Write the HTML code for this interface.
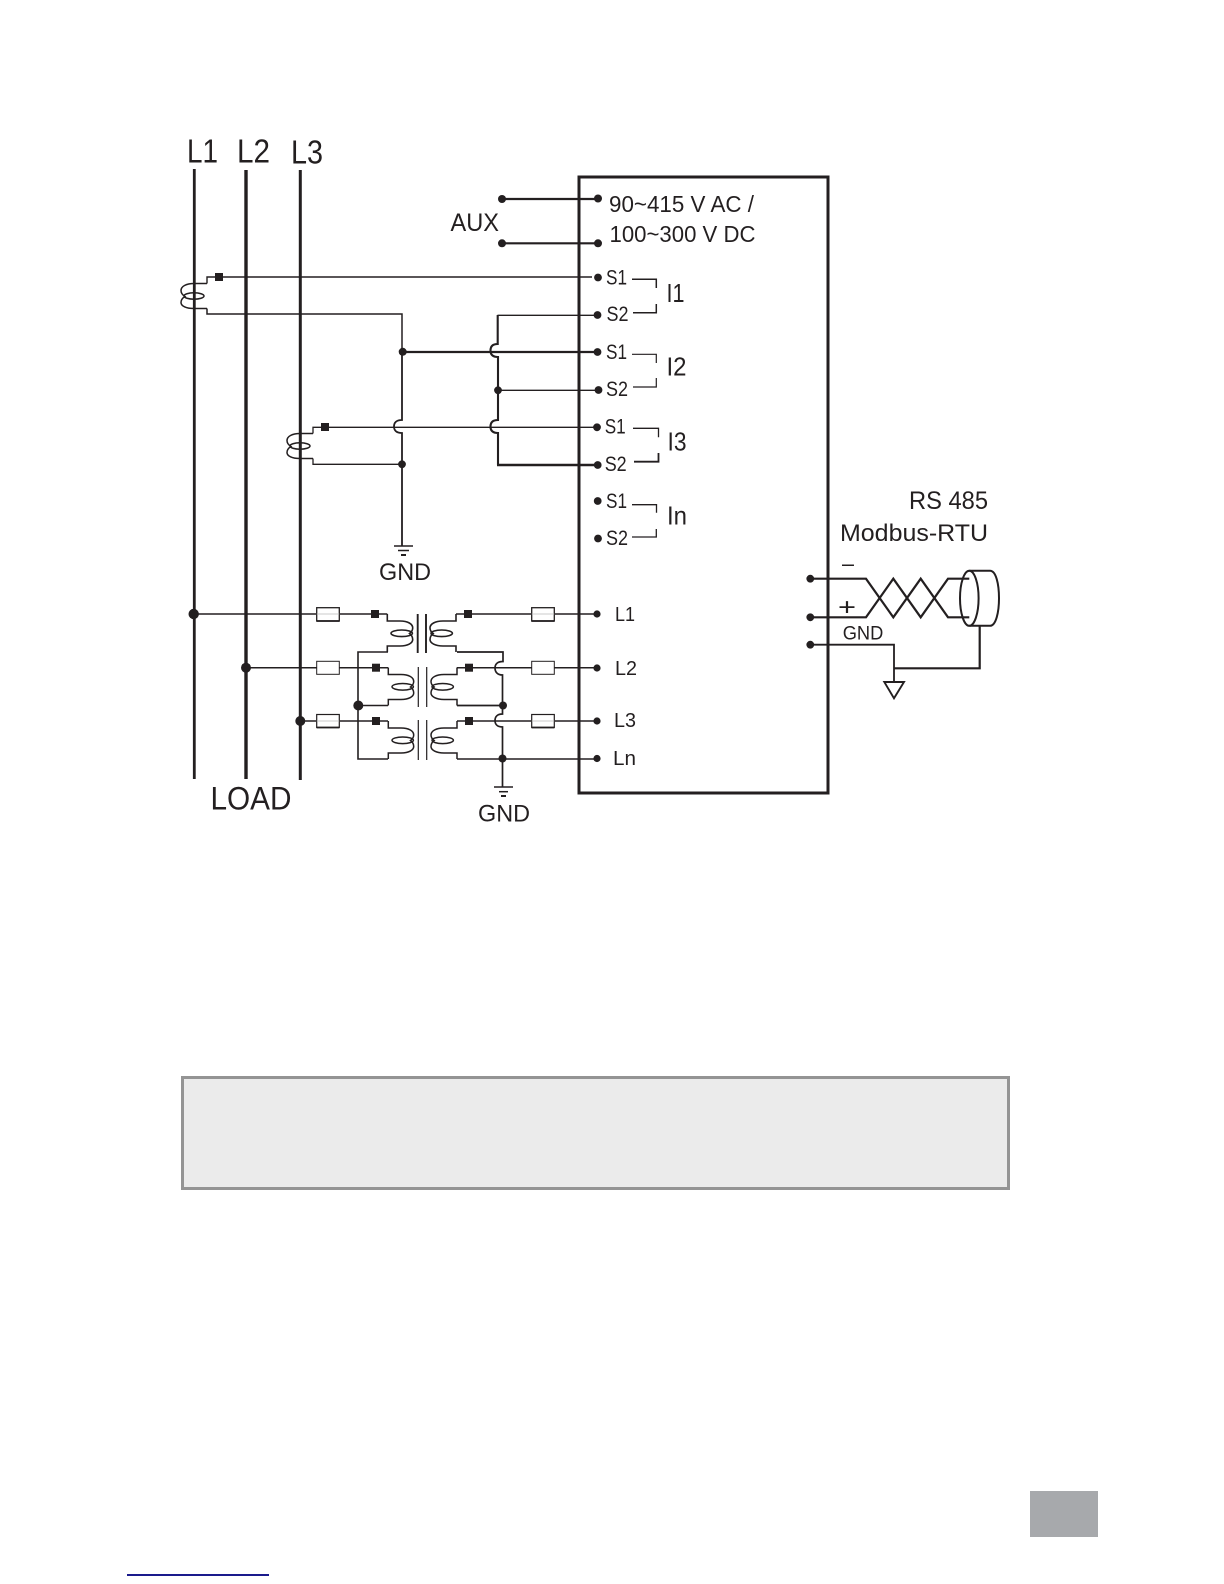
<!DOCTYPE html>
<html>
<head>
<meta charset="utf-8">
<style>
html,body{margin:0;padding:0;background:#fff;}
svg{display:block;}
text{font-family:"Liberation Sans",sans-serif;fill:#231f20;}
</style>
</head>
<body>
<svg width="1224" height="1584" viewBox="0 0 1224 1584" xmlns="http://www.w3.org/2000/svg">
<defs>
<g id="ct">
<path d="M207 283.5H194C186 283.5 181 286.5 181 290.5C181 293 182.5 295 185 296.5C182.5 298 181 300 181 302.5C181 306 186 308.5 194 308.5H207"/>
<ellipse cx="194" cy="296" rx="10" ry="3.2"/>
</g>
<g id="pri">
<path d="M387.3 614V621H400C408 621 412.7 624 412.7 628C412.7 630.5 411.5 632 409.5 633.5C411.5 635 412.7 637 412.7 639.5C412.7 643 408 646 400 646H387.3V652"/>
<ellipse cx="401.7" cy="633.3" rx="10.7" ry="3.3"/>
</g>
<g id="sec">
<path d="M456 614V621H443C435 621 430 624 430 628C430 630.5 431.2 632 433.2 633.5C431.2 635 430 637 430 639.5C430 643 435 646 443 646H456V652"/>
<ellipse cx="441.7" cy="633.3" rx="10.7" ry="3.3"/>
</g>
</defs>

<g fill="none" stroke="#231f20" stroke-linejoin="miter">
<!-- load lines -->
<path d="M194.3 169V779" stroke-width="2.8"/>
<path d="M246 170V779" stroke-width="3.4"/>
<path d="M300.3 170V780" stroke-width="3"/>
<!-- main box -->
<rect x="579" y="177" width="249" height="616" stroke-width="3"/>
<!-- AUX -->
<path d="M502 199H598M502 243.3H598" stroke-width="2.2"/>
<!-- CT1 -->
<use href="#ct" stroke-width="1.5"/>
<path d="M207 283.5V277H592" stroke-width="1.4"/>
<path d="M207 308.5V314H402V352" stroke-width="1.5"/>
<!-- CT3 -->
<use href="#ct" transform="translate(106 150)" stroke-width="1.5"/>
<path d="M313 433.5V427.3H598" stroke-width="1.3"/>
<path d="M313 458.5V464.3H402" stroke-width="1.3"/>
<!-- x=402 vertical with jump -->
<path d="M402 352V420C396 420 394 423 394 426.5C394 430 396 433 402 433V546" stroke-width="1.8"/>
<path d="M402 352H598" stroke-width="2.3"/>
<path d="M394 546H413" stroke-width="1.5"/>
<path d="M398 550.5H409" stroke-width="1.5"/>
<path d="M401 555H406" stroke-width="2"/>
<!-- x=498 vertical -->
<path d="M598 315.3H497.5" stroke-width="1.4"/>
<path d="M497.7 315V344C492 344 490.5 347 490.5 350.5C490.5 354 492 357 498 357V420C492 420 490.5 423 490.5 426.5C490.5 430 492 433 498 433V465" stroke-width="2.1"/>
<path d="M497 465H598" stroke-width="2.4"/>
<path d="M498 390.3H598" stroke-width="1.3"/>
<!-- brackets -->
<path d="M632 279.3H656.3V288M633 312.7H656.3V304" stroke-width="1.5"/>
<path d="M632 354.3H656.3V363M633 387H656.3V378" stroke-width="1.2"/>
<path d="M633 428.3H658.5V437.3" stroke-width="1.3"/>
<path d="M634 461.7H658.5V453" stroke-width="1.8"/>
<path d="M632 504.7H656.5V512.7M632 537H656.3V529" stroke-width="1.3"/>

<!-- phase wiring -->
<path d="M194 614H387.3" stroke-width="1.6"/>
<path d="M456 614H597" stroke-width="1.6"/>
<path d="M246 667.7H388M457 667.7H597" stroke-width="1.5"/>
<path d="M300 721H388M457 721H597" stroke-width="1.5"/>
<rect x="316.7" y="607.7" width="22.6" height="13.3" fill="#fff" stroke-width="1.3"/>
<rect x="531.7" y="607.7" width="22.6" height="13.3" fill="#fff" stroke-width="1.3"/>
<rect x="316.7" y="661.3" width="22.6" height="13" fill="#fff" stroke-width="1"/>
<rect x="531.7" y="661.3" width="22.6" height="13" fill="#fff" stroke-width="1"/>
<rect x="316.7" y="714.5" width="22.6" height="13" fill="#fff" stroke-width="1.2"/>
<rect x="531.7" y="714.5" width="22.6" height="13" fill="#fff" stroke-width="1.2"/>
<path d="M316.7 621H339.3M531.7 621H554.3M316.7 727.5H339.3M531.7 727.5H554.3" stroke-width="1.8"/>
<path d="M316.7 614H339.3M531.7 614H554.3M316.7 721H339.3M531.7 721H554.3" stroke-width="0.8" stroke="#bbb"/>

<use href="#pri" stroke-width="1.6"/>
<use href="#sec" stroke-width="1.6"/>
<use href="#pri" transform="translate(1 53.5)" stroke-width="1.5"/>
<use href="#sec" transform="translate(1 53.5)" stroke-width="1.5"/>
<use href="#pri" transform="translate(1 107)" stroke-width="1.5"/>
<use href="#sec" transform="translate(1 107)" stroke-width="1.5"/>

<path d="M417.7 614V653M426 614V653" stroke-width="1.9"/>
<path d="M418.3 667V707M426.7 667V707" stroke-width="1.2"/>
<path d="M418.3 720V760M426.7 720V760" stroke-width="1.2"/>

<path d="M388 652H358V759H388" stroke-width="1.6"/>
<path d="M358 705.5H388" stroke-width="1.6"/>
<path d="M457 652H503V661.5C497 661.5 495 664.5 495 668C495 671.5 497 675 502.5 675V714C497 714 495 717 495 720.5C495 724 497 727 502.5 727V787" stroke-width="1.7"/>
<path d="M457 705.5H503" stroke-width="1.7"/>
<path d="M457 759H597" stroke-width="1.6"/>
<path d="M494 787H513" stroke-width="1.5"/>
<path d="M499 791.7H508" stroke-width="1.5"/>
<path d="M501 796H506" stroke-width="2"/>

<!-- RS485 -->
<path d="M810 578.7H866L893.3 617.3L920.7 578.7L948 617.3H969.3" stroke-width="2.2"/>
<path d="M810 617.3H866L893.3 578.7L920.7 617.3L948 578.7H969.3" stroke-width="2.2"/>
<ellipse cx="969.3" cy="598.3" rx="9.3" ry="27.5" stroke-width="2"/>
<path d="M969.3 570.8H990C996 570.8 999 584 999 598.3C999 612 996 625.8 990 625.8H969.3" stroke-width="2"/>
<path d="M979.7 626V668.3H894" stroke-width="2.2"/>
<path d="M810 644.7H894V682" stroke-width="1.8"/>
<path d="M884.3 682H904L894 698.3Z" stroke-width="1.9"/>
</g>

<!-- squares -->
<g fill="#231f20">
<rect x="215" y="273" width="8" height="8"/>
<rect x="321" y="423" width="8" height="8"/>
<rect x="371" y="610" width="8" height="8"/>
<rect x="464" y="610" width="8" height="8"/>
<rect x="372" y="663.7" width="8" height="8"/>
<rect x="465" y="663.7" width="8" height="8"/>
<rect x="372" y="717" width="8" height="8"/>
<rect x="465" y="717" width="8" height="8"/>
<!-- dots -->
<circle cx="502" cy="199" r="4"/><circle cx="502" cy="243.3" r="4"/>
<circle cx="598" cy="198.5" r="4"/><circle cx="598" cy="243.3" r="4"/>
<circle cx="598" cy="277.5" r="3.9"/><circle cx="597.5" cy="315" r="3.9"/>
<circle cx="597.5" cy="352" r="3.9"/><circle cx="598.5" cy="390" r="3.9"/>
<circle cx="597" cy="427.3" r="3.9"/><circle cx="597.7" cy="465" r="3.9"/>
<circle cx="597.7" cy="501" r="3.9"/><circle cx="598" cy="538.5" r="3.9"/>
<circle cx="402.7" cy="351.8" r="4"/><circle cx="402" cy="464.3" r="3.9"/>
<circle cx="498" cy="390.3" r="3.9"/>
<circle cx="193.7" cy="614" r="5.2"/><circle cx="246" cy="667.7" r="5"/>
<circle cx="300.3" cy="721" r="5"/>
<circle cx="358.3" cy="705.5" r="5"/><circle cx="503" cy="705.5" r="4"/>
<circle cx="502.5" cy="758.5" r="4"/>
<circle cx="597" cy="614" r="3.6"/><circle cx="597" cy="668" r="3.6"/>
<circle cx="597" cy="721" r="3.6"/><circle cx="597" cy="758.5" r="3.6"/>
<circle cx="810.3" cy="578.7" r="3.9"/><circle cx="810.3" cy="617.3" r="3.9"/>
<circle cx="810.3" cy="644.7" r="3.9"/>
</g>

<!-- labels -->
<text x="187" y="162.5" font-size="33" textLength="31" lengthAdjust="spacingAndGlyphs">L1</text>
<text x="237" y="162.5" font-size="33" textLength="33" lengthAdjust="spacingAndGlyphs">L2</text>
<text x="291" y="163.5" font-size="33" textLength="32" lengthAdjust="spacingAndGlyphs">L3</text>
<text x="450.5" y="231" font-size="25" textLength="48.5" lengthAdjust="spacingAndGlyphs">AUX</text>
<text x="609" y="212" font-size="23" textLength="145" lengthAdjust="spacingAndGlyphs">90~415 V AC /</text>
<text x="609.5" y="242" font-size="23" textLength="146" lengthAdjust="spacingAndGlyphs">100~300 V DC</text>
<g font-size="21">
<text x="606" y="284.5" textLength="21" lengthAdjust="spacingAndGlyphs">S1</text>
<text x="606.5" y="321" textLength="22" lengthAdjust="spacingAndGlyphs">S2</text>
<text x="606" y="359" textLength="21" lengthAdjust="spacingAndGlyphs">S1</text>
<text x="606" y="396" textLength="22" lengthAdjust="spacingAndGlyphs">S2</text>
<text x="604.7" y="433.5" textLength="21" lengthAdjust="spacingAndGlyphs">S1</text>
<text x="604.7" y="471" textLength="22" lengthAdjust="spacingAndGlyphs">S2</text>
<text x="606" y="508" textLength="21" lengthAdjust="spacingAndGlyphs">S1</text>
<text x="606" y="545" textLength="22" lengthAdjust="spacingAndGlyphs">S2</text>
</g>
<g font-size="26">
<text x="666.5" y="302" textLength="18" lengthAdjust="spacingAndGlyphs">I1</text>
<text x="666.5" y="375.5" textLength="20" lengthAdjust="spacingAndGlyphs">I2</text>
<text x="667.5" y="450.5" textLength="19" lengthAdjust="spacingAndGlyphs">I3</text>
<text x="667" y="524.5" textLength="20" lengthAdjust="spacingAndGlyphs">In</text>
</g>
<text x="909" y="509" font-size="25" textLength="79" lengthAdjust="spacingAndGlyphs">RS 485</text>
<text x="840" y="541" font-size="24" textLength="148" lengthAdjust="spacingAndGlyphs">Modbus-RTU</text>
<text x="842" y="571" font-size="22" textLength="12" lengthAdjust="spacingAndGlyphs">–</text>
<text x="838" y="615" font-size="24" textLength="18" lengthAdjust="spacingAndGlyphs">+</text>
<text x="842.7" y="639.5" font-size="19" textLength="40.6" lengthAdjust="spacingAndGlyphs">GND</text>
<text x="379" y="580" font-size="24" textLength="52" lengthAdjust="spacingAndGlyphs">GND</text>
<text x="478" y="821.5" font-size="24" textLength="52" lengthAdjust="spacingAndGlyphs">GND</text>
<text x="210.5" y="809.5" font-size="32" textLength="81" lengthAdjust="spacingAndGlyphs">LOAD</text>
<text x="615" y="621" font-size="20" textLength="20" lengthAdjust="spacingAndGlyphs">L1</text>
<text x="615" y="675" font-size="20" textLength="22" lengthAdjust="spacingAndGlyphs">L2</text>
<text x="614" y="727" font-size="20" textLength="22" lengthAdjust="spacingAndGlyphs">L3</text>
<text x="613" y="765" font-size="20" textLength="23" lengthAdjust="spacingAndGlyphs">Ln</text>

<!-- notice box -->
<rect x="182.5" y="1077.5" width="826" height="111" fill="#ebebeb" stroke="#949494" stroke-width="3"/>
<!-- page tab -->
<rect x="1030" y="1491" width="68" height="46" fill="#a7a9ac"/>
<!-- link underline -->
<rect x="127" y="1574" width="142" height="2" fill="#1a1a8c"/>
</svg>
</body>
</html>
